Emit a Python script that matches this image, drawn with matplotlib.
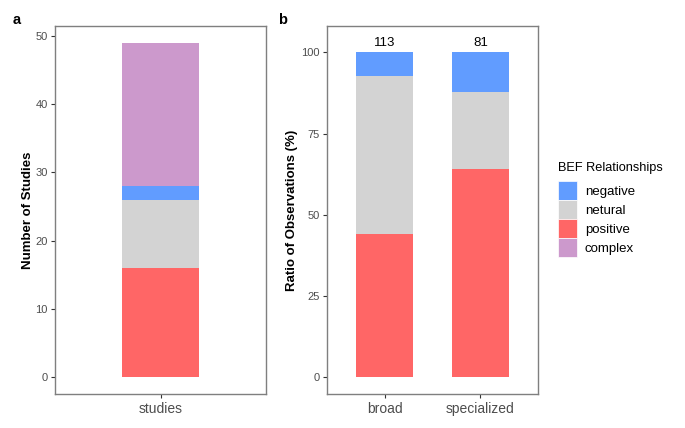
import matplotlib.pyplot as plt
from matplotlib.patches import Patch

plt.rcParams['font.family'] = ['Liberation Sans', 'DejaVu Sans']

# --- DATA ---
# panel a: number of studies per relationship type
study_cat = ['studies']
study_positive = [16]
study_netural = [10]
study_negative = [2]
study_complex = [21]

# panel b: ratio of observations (%)
groups = ['broad', 'specialized']
n_obs = [113, 81]
ratio_positive = [44.2, 64.2]
ratio_netural = [48.7, 23.5]
ratio_negative = [7.1, 12.3]

legend_labels = ['negative', 'netural', 'positive', 'complex']

C_NEG = '#619CFF'
C_NEU = '#D3D3D3'
C_POS = '#FF6666'
C_COM = '#CC99CC'

TICK_COL = '#4D4D4D'
FRAME_COL = '#7F7F7F'

fig = plt.figure(figsize=(6.85, 4.28), dpi=100)
ax1 = fig.add_axes([55/685, 34/428, 211/685, 368/428])
ax2 = fig.add_axes([327/685, 34/428, 211/685, 368/428])


def style(ax):
    for s in ax.spines.values():
        s.set_color(FRAME_COL)
        s.set_linewidth(1.0)
    ax.tick_params(axis='both', colors='#333333', length=3, width=0.8)
    ax.tick_params(axis='x', pad=2.5)
    ax.tick_params(axis='y', pad=2.3)
    for t in ax.get_yticklabels():
        t.set_color(TICK_COL)
        t.set_fontsize(8)
    for t in ax.get_xticklabels():
        t.set_color(TICK_COL)
        t.set_fontsize(10)


# --- panel a ---
x1 = range(len(study_cat))
b = [0] * len(study_cat)
for vals, col in [(study_positive, C_POS), (study_netural, C_NEU),
                  (study_negative, C_NEG), (study_complex, C_COM)]:
    ax1.bar(x1, vals, bottom=b, width=0.44, color=col)
    b = [p + q for p, q in zip(b, vals)]
ax1.set_xlim(-0.6, 0.6)
ax1.set_ylim(-2.45, 51.45)
ax1.set_yticks([0, 10, 20, 30, 40, 50])
ax1.set_xticks(list(x1))
ax1.set_xticklabels(study_cat)
ax1.set_ylabel('Number of Studies', fontsize=9.5, fontweight='bold', labelpad=1)
style(ax1)

# --- panel b ---
x2 = list(range(len(groups)))
b = [0] * len(groups)
for vals, col in [(ratio_positive, C_POS), (ratio_netural, C_NEU),
                  (ratio_negative, C_NEG)]:
    ax2.bar(x2, vals, bottom=b, width=0.6, color=col)
    b = [p + q for p, q in zip(b, vals)]
for xi, n in zip(x2, n_obs):
    ax2.text(xi, 103, str(n), ha='center', va='center', fontsize=9.5, color='black')
ax2.set_xlim(-0.6, 1.6)
ax2.set_ylim(-5.15, 108.15)
ax2.set_yticks([0, 25, 50, 75, 100])
ax2.set_xticks(x2)
ax2.set_xticklabels(groups)
ax2.set_ylabel('Ratio of Observations (%)', fontsize=9.5, fontweight='bold', labelpad=2)
style(ax2)

fig.text(17/685, 1 - 20/428, 'a', fontsize=10.5, fontweight='bold', ha='center', va='center')
fig.text(283/685, 1 - 20/428, 'b', fontsize=10.5, fontweight='bold', ha='center', va='center')

# legend: title as separate text, keys below
fig.text(558/685, 1 - 168/428, 'BEF Relationships', fontsize=9.2,
         ha='left', va='center')
handles = [Patch(facecolor=c, edgecolor='white', linewidth=0.5)
           for c in [C_NEG, C_NEU, C_POS, C_COM]]
fig.legend(handles, legend_labels,
           loc='upper left', bbox_to_anchor=(558/685, 1 - 181/428),
           frameon=False, fontsize=9.5, borderpad=0,
           handlelength=1.44, handleheight=1.84, labelspacing=0,
           handletextpad=0.6, borderaxespad=0)

fig.savefig('out.png', dpi=100)
